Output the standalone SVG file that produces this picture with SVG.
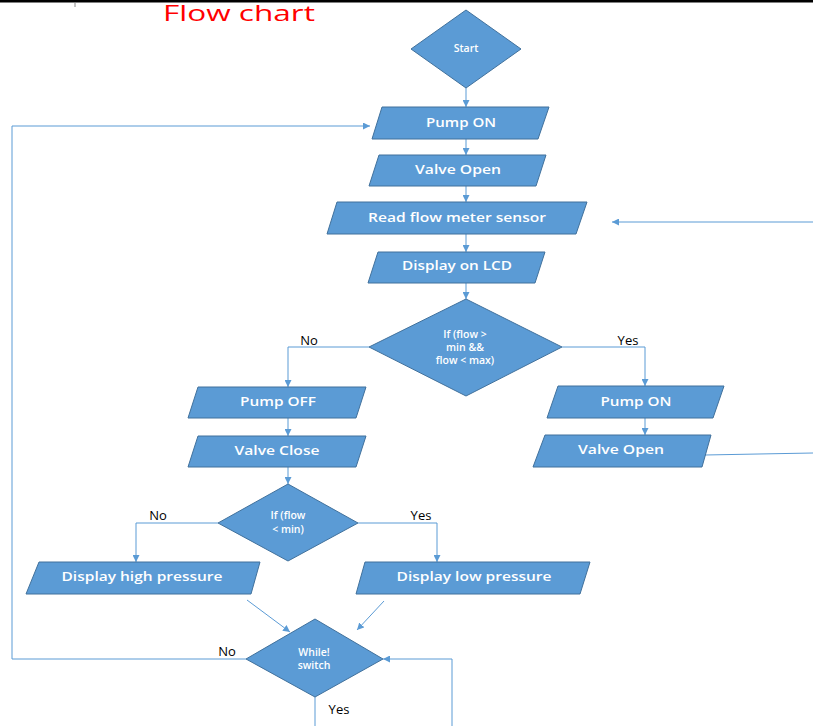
<svg xmlns="http://www.w3.org/2000/svg" width="813" height="726" viewBox="0 0 813 726">
<style>
.box{fill:#5B9BD5;stroke:#41719C;stroke-width:1}
.t{fill:#ffffff;font-family:"Open Sans","Liberation Sans",sans-serif;font-size:13px;font-weight:600;text-anchor:middle}
.ts{fill:#ffffff;font-family:"Open Sans","Liberation Sans",sans-serif;font-size:10.5px;font-weight:600;text-anchor:middle}
.lbl{fill:#000000;font-family:"Open Sans","Liberation Sans",sans-serif;font-size:13px;text-anchor:middle}
.c{fill:none;stroke:#5B9BD5;stroke-width:1}
.ca{fill:none;stroke:#5B9BD5;stroke-width:1;marker-end:url(#ah)}
</style>
<defs>
<marker id="ah" viewBox="0 0 10 10" refX="10" refY="5" markerWidth="7" markerHeight="7" markerUnits="userSpaceOnUse" orient="auto">
<path d="M0,0 L10,5 L0,10 z" fill="#5B9BD5"/>
</marker>
</defs>
<rect x="0" y="0" width="813" height="2.5" fill="#000000"/>
<line x1="75" y1="3" x2="75" y2="7" stroke="#888888" stroke-width="1"/>
<text x="239" y="20.5" fill="#FF0000" font-family="Open Sans, Liberation Sans, sans-serif" font-size="22" text-anchor="middle" textLength="152" lengthAdjust="spacingAndGlyphs">Flow chart</text>

<g id="connectors">
<path class="ca" d="M466,88 V107"/>
<path class="ca" d="M466,139 V155"/>
<path class="ca" d="M466,186 V202"/>
<path class="ca" d="M466,234 V252"/>
<path class="ca" d="M466,283 V299"/>
<path class="ca" d="M369,347 H288 V387"/>
<path class="ca" d="M562,347 H645 V386"/>
<path class="ca" d="M288,418 V436"/>
<path class="ca" d="M645,418 V435"/>
<path class="ca" d="M288,467 V484"/>
<path class="ca" d="M218,523 H136 V562"/>
<path class="ca" d="M358,523 H437 V562"/>
<path class="ca" d="M247,600 L290,632"/>
<path class="ca" d="M384,601 L357,630"/>
<path class="ca" d="M246,659 H12 V126 H370"/>
<path class="c" d="M315,697 V726"/>
<path class="ca" d="M452,726 V659 H383"/>
<path class="c" d="M705,455 L813,453"/>
<path class="ca" d="M813,222 H612"/>
</g>

<g id="start">
<polygon class="box" points="466,10 521,49 466,88 411,49"/>
<text class="ts" x="466" y="52">Start</text>
</g>
<g id="pump-on">
<polygon class="box" points="382,107 549,107 538,139 372,139"/>
<text class="t" x="461" y="127" textLength="70" lengthAdjust="spacingAndGlyphs">Pump ON</text>
</g>
<g id="valve-open">
<polygon class="box" points="379,155 546,155 536,186 369,186"/>
<text class="t" x="458" y="174" textLength="86" lengthAdjust="spacingAndGlyphs">Valve Open</text>
</g>
<g id="read-sensor">
<polygon class="box" points="337,202 587,202 576,234 327,234"/>
<text class="t" x="457" y="222" textLength="178" lengthAdjust="spacingAndGlyphs">Read flow meter sensor</text>
</g>
<g id="display-lcd">
<polygon class="box" points="378,252 545,252 535,283 368,283"/>
<text class="t" x="457" y="270" textLength="110" lengthAdjust="spacingAndGlyphs">Display on LCD</text>
</g>
<g id="decision-range">
<polygon class="box" points="466,299 562,347 466,396 369,347"/>
<text class="ts" x="465" y="338">If (flow &gt;</text>
<text class="ts" x="465" y="351">min &amp;&amp;</text>
<text class="ts" x="465" y="364">flow &lt; max)</text>
</g>
<g id="pump-off">
<polygon class="box" points="198,387 366,387 356,418 188,418"/>
<text class="t" x="278" y="406" textLength="76" lengthAdjust="spacingAndGlyphs">Pump OFF</text>
</g>
<g id="valve-close">
<polygon class="box" points="198,436 366,436 356,467 188,467"/>
<text class="t" x="277" y="455" textLength="85" lengthAdjust="spacingAndGlyphs">Valve Close</text>
</g>
<g id="pump-on-2">
<polygon class="box" points="558,386 724,386 713,418 547,418"/>
<text class="t" x="636" y="406" textLength="71" lengthAdjust="spacingAndGlyphs">Pump ON</text>
</g>
<g id="valve-open-2">
<polygon class="box" points="545,435 711,435 702,467 533,467"/>
<text class="t" x="621" y="454" textLength="86" lengthAdjust="spacingAndGlyphs">Valve Open</text>
</g>
<g id="decision-min">
<polygon class="box" points="288,484 358,523 288,561 218,523"/>
<text class="ts" x="288" y="519">If (flow</text>
<text class="ts" x="288" y="533">&lt; min)</text>
</g>
<g id="display-high">
<polygon class="box" points="39,562 260,562 251,594 26,594"/>
<text class="t" x="142" y="581" textLength="161" lengthAdjust="spacingAndGlyphs">Display high pressure</text>
</g>
<g id="display-low">
<polygon class="box" points="365,562 590,562 580,594 356,594"/>
<text class="t" x="474" y="581" textLength="155" lengthAdjust="spacingAndGlyphs">Display low pressure</text>
</g>
<g id="while-switch">
<polygon class="box" points="315,619 383,659 315,697 246,659"/>
<text class="ts" x="314" y="656">While!</text>
<text class="ts" x="314" y="669">switch</text>
</g>

<g id="labels">
<text class="lbl" x="309" y="345">No</text>
<text class="lbl" x="628" y="345">Yes</text>
<text class="lbl" x="158" y="520">No</text>
<text class="lbl" x="421" y="520">Yes</text>
<text class="lbl" x="227" y="656">No</text>
<text class="lbl" x="339" y="714">Yes</text>
</g>
</svg>
